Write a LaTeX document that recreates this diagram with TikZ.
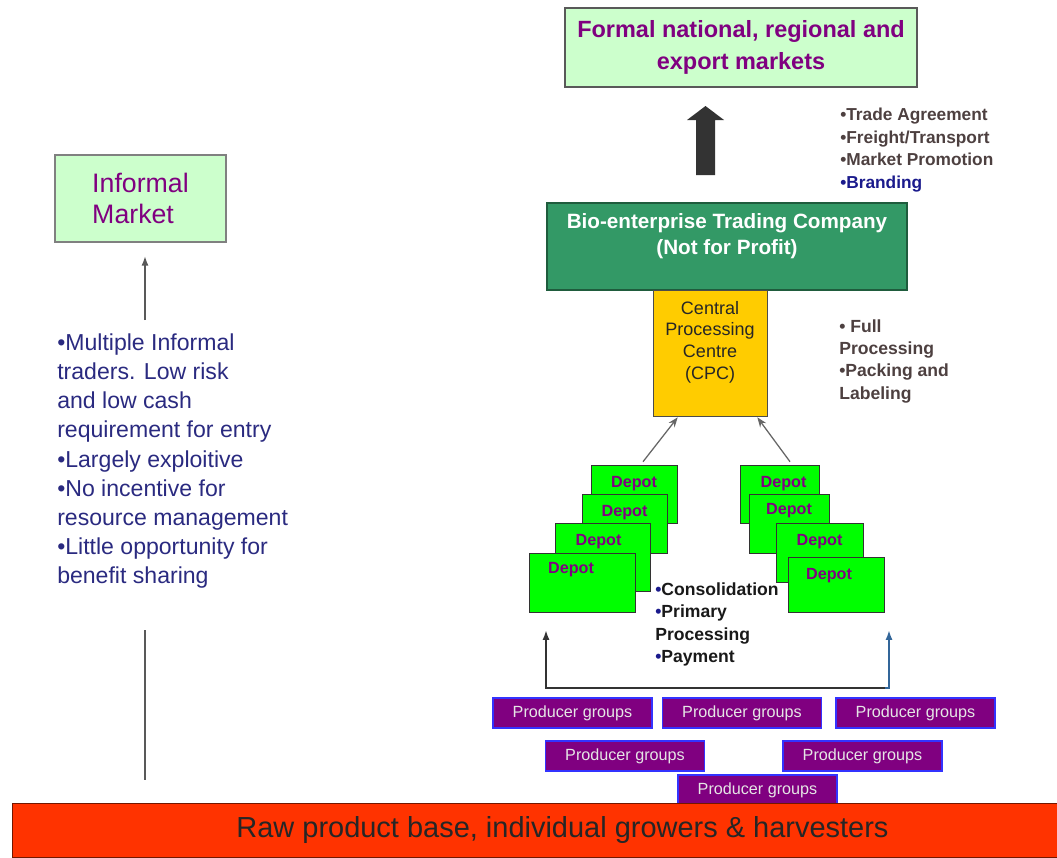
\documentclass[tikz,border=0pt]{standalone}
\usepackage{fontspec}
\setmainfont{Liberation Sans}
\usepackage{tikz}
\usetikzlibrary{arrows.meta,positioning,calc}

\definecolor{mintbox}{HTML}{CCFFCC}
\definecolor{plum}{HTML}{800080}
\definecolor{seagreen}{HTML}{339966}
\definecolor{cpcyellow}{HTML}{FFCC00}
\definecolor{depotgreen}{HTML}{00FF00}
\definecolor{pgborder}{HTML}{3333FF}
\definecolor{rawred}{HTML}{FF3300}
\definecolor{navytext}{HTML}{2A2A80}
\definecolor{browntext}{HTML}{4D4040}
\definecolor{brandblue}{HTML}{1A1A8C}
\definecolor{steel}{HTML}{336699}

\begin{document}
\begin{tikzpicture}[
  x=0.025cm, y=-0.025cm,
  >=Stealth,
  market/.style={rectangle, draw=black!65, line width=1pt, fill=mintbox, text=plum},
  depot/.style={rectangle, draw=black!80, fill=depotgreen, inner sep=0pt},
  dtext/.style={anchor=north, inner sep=0pt, yshift=-0.275cm, text=plum,
    font=\fontsize{11.5}{13}\selectfont\bfseries},
  pgroup/.style={rectangle, draw=pgborder, line width=0.8pt, fill=plum,
    text=white!90!black, minimum width=3.975cm, minimum height=0.75cm,
    font=\fontsize{11.5}{13}\selectfont},
  notes/.style={anchor=north west, inner sep=0pt, align=left},
  feed/.style={->, draw=black!60, line width=0.9pt},
  bar/.style={-{Latex[length=7pt,width=5pt]}, line width=1.8pt, draw=black!80}
]
  \useasboundingbox (0,0) rectangle (1057,857);

  % markets
  \node[market, minimum width=8.8cm, minimum height=1.975cm, align=center,
    font=\fontsize{16.7}{22.5}\selectfont\bfseries] (formal) at (741,47.5)
    {Formal national, regional and\\export markets};
  \node[market, draw=black!50, minimum width=4.275cm, minimum height=2.175cm,
    align=left, font=\fontsize{19}{22}\selectfont] (informal) at (140.5,198.5)
    {Informal\\Market};

  % trading company and CPC
  \fill[black!80] (696,175) -- (696,120) -- (687,120) -- (705.5,106)
    -- (724,120) -- (715,120) -- (715,175) -- cycle;
  \node[rectangle, draw=seagreen!60!black, line width=1pt, fill=seagreen,
    minimum width=9cm, minimum height=2.175cm,
    label={[anchor=north, inner sep=0pt, yshift=-0.275cm, align=center, text=white,
      font=\fontsize{14.7}{18.5}\selectfont\bfseries]north:{Bio-enterprise Trading Company\\(Not for Profit)}}]
    (bio) at (727,246.5) {};
  \node[rectangle, draw=black!70, fill=cpcyellow, minimum width=2.85cm, minimum height=3.15cm,
    label={[anchor=north, inner sep=0pt, yshift=-0.275cm, align=center, text=black!85,
      font=\fontsize{12.8}{15.6}\selectfont]north:{Central\\Processing\\Centre\\(CPC)}}]
    (cpc) at (710,353) {};

  \node[notes, text=browntext, font=\fontsize{12.3}{16}\selectfont\bfseries] (tradenotes) at (840,108)
    {•Trade Agreement\\•Freight/Transport\\•Market Promotion\\{\color{brandblue}•Branding}};
  \node[notes, text=browntext, font=\fontsize{12.5}{15.9}\selectfont\bfseries] (cpcnotes) at (839,319)
    {• Full\\Processing\\•Packing and\\Labeling};

  % depots
  \node[depot, minimum width=2.15cm, minimum height=1.45cm, label={[dtext]north:Depot}] (ld1) at (634,494) {};
  \node[depot, minimum width=2.125cm, minimum height=1.475cm, label={[dtext]north:Depot}] (ld2) at (624.5,523.5) {};
  \node[depot, minimum width=2.375cm, minimum height=1.7cm, label={[dtext,xshift=-0.1cm]north:Depot}] (ld3) at (602.5,557) {};
  \node[depot, minimum width=2.65cm, minimum height=1.475cm, label={[dtext,xshift=-0.275cm,yshift=0.05cm]north:Depot}] (ld4) at (582,582.5) {};
  \node[depot, minimum width=1.975cm, minimum height=1.45cm, label={[dtext,xshift=0.1cm]north:Depot}] (rd1) at (779.5,494) {};
  \node[depot, minimum width=2cm, minimum height=1.475cm, label={[dtext,yshift=0.05cm]north:Depot}] (rd2) at (789,523.5) {};
  \node[depot, minimum width=2.175cm, minimum height=1.475cm, label={[dtext]north:Depot}] (rd3) at (819.5,552.5) {};
  \node[depot, minimum width=2.4cm, minimum height=1.375cm, label={[dtext,xshift=-0.175cm]north:Depot}] (rd4) at (836,584.5) {};

  \draw[feed] ($(ld1.north)+(9,-3)$) -- ($(cpc.south west)+(25,1)$);
  \draw[feed] ($(rd1.north)+(10.5,-3)$) -- ($(cpc.south east)+(-10,1)$);

  \node[notes, text=black!90, font=\fontsize{12.5}{16}\selectfont\bfseries] (depotnotes) at (655,582)
    {{\color{brandblue}•}Consolidation\\{\color{brandblue}•}Primary\\Processing\\{\color{brandblue}•}Payment};

  % producer groups
  \node[pgroup] (pg1) at (572.5,713) {Producer groups};
  \node[pgroup] (pg2) at (742,713) {Producer groups};
  \node[pgroup] (pg3) at (915.5,713) {Producer groups};
  \node[pgroup] (pg4) at (625,756) {Producer groups};
  \node[pgroup] (pg5) at (862.5,756) {Producer groups};
  \node[pgroup] (pg6) at (757.5,790) {Producer groups};

  \coordinate (lin) at (546,630);
  \coordinate (rin) at (889,630);
  \coordinate (split) at (885,688);
  \draw[bar] (split) -| (lin);
  \draw[bar, draw=steel, line width=1.4pt] (split) -| (rin);

  % raw base
  \node[rectangle, draw=rawred!45!black, fill=rawred, minimum width=26.125cm, minimum height=1.35cm,
    label={[anchor=center, inner sep=0pt, xshift=0.7cm, yshift=-0.675cm, text=black!85,
      font=\fontsize{20.6}{24}\selectfont]north:{Raw product base, individual growers \& harvesters}}]
    (raw) at (534.5,830) {};

  % informal route
  \node[notes, text=navytext, font=\fontsize{16.4}{20.8}\selectfont] (informalnotes) at (57,333)
    {•Multiple Informal\\traders. Low risk\\and low cash\\requirement for entry\\•Largely exploitive\\•No incentive for\\resource management\\•Little opportunity for\\benefit sharing};
  \coordinate (infup) at (145,320);
  \coordinate (infdown) at (145,630);
  \draw[-{Latex[length=7pt,width=5pt]}, line width=1.4pt, black!65, shorten >=0.325cm]
    (infup) -- (informal.south -| infup);
  \draw[line width=1.4pt, black!65, shorten <=0.575cm] (raw.north -| infdown) -- (infdown);
\end{tikzpicture}
\end{document}
